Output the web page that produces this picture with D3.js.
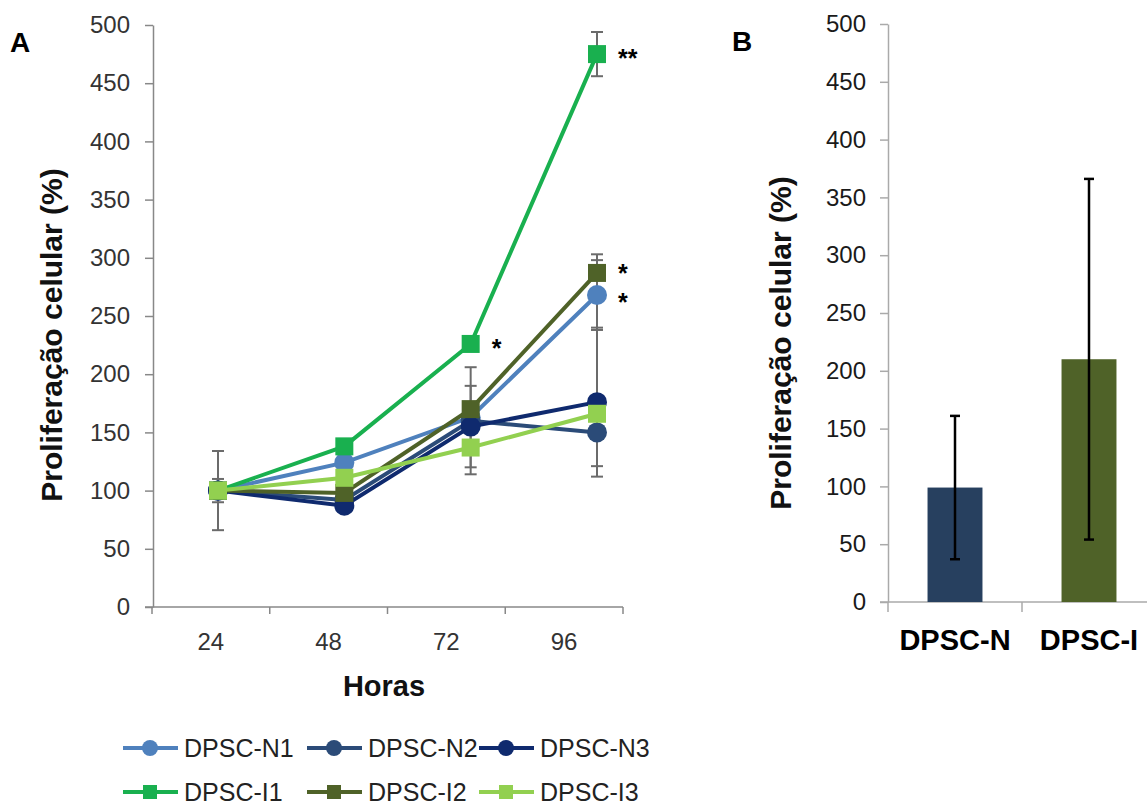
<!DOCTYPE html>
<html>
<head>
<meta charset="utf-8">
<script src="https://cdn.jsdelivr.net/npm/d3@7"></script>
<style>
  body { margin: 0; background: #fff; }
  svg { display: block; font-family: "Liberation Sans", Arial, sans-serif; }
</style>
</head>
<body>
<div id="container"></div>
<script>
// ---- data ----
const hours = ["24", "48", "72", "96"];
const yTicks = [0, 50, 100, 150, 200, 250, 300, 350, 400, 450, 500];

const lineNames = ["DPSC-N1", "DPSC-N2", "DPSC-N3", "DPSC-I1", "DPSC-I2", "DPSC-I3"];
const n1Vals = [100, 124, 163, 268];
const n2Vals = [100, 92, 160, 150];
const n3Vals = [100, 87, 155, 176];
const i1Vals = [100, 138, 226, 475];
const i2Vals = [100, 98, 170, 287];
const i3Vals = [100, 111, 137, 166];
// error bars (0 = not shown)
const n1Err = [0, 0, 0, 30];
const n2Err = [10, 0, 46, 29];
const n3Err = [0, 0, 35, 64];
const i1Err = [0, 0, 0, 19];
const i2Err = [0, 0, 0, 16];
const i3Err = [34, 0, 0, 0];

// significance marks: series, hour, label
const sigSeries = ["DPSC-I1", "DPSC-I1", "DPSC-I2", "DPSC-N1"];
const sigHours = ["72", "96", "96", "96"];
const sigLabels = ["*", "**", "*", "*"];

const barGroups = ["DPSC-N", "DPSC-I"];
const barMeans = [99, 210];
const barErrs = [62, 156];

// ---- styles ----
const lineColors = ["#4f81bd", "#2b4b78", "#0f2a6e", "#19b04f", "#4f6228", "#92d050"];
const lineShapes = ["circle", "circle", "circle", "square", "square", "square"];
const barColors = ["#27405f", "#4f6228"];

const W = 1147, H = 807;
const svg = d3.select("#container").append("svg")
  .attr("width", W).attr("height", H);

// ================= Panel A =================
const yA = d3.scaleLinear().domain([0, 500]).range([607, 25]);
const xBandA = d3.scaleBand().domain(hours).range([152, 623]);
const xA = d3.scalePoint().domain(hours).range([218, 597]);

svg.append("g")
  .attr("transform", "translate(153,0)")
  .call(d3.axisLeft(yA).tickValues(yTicks).tickSize(8).tickSizeOuter(0).tickPadding(15))
  .call(g => g.select(".domain").attr("stroke", "#888").attr("stroke-width", 1.5))
  .call(g => g.selectAll(".tick line").attr("stroke", "#888").attr("stroke-width", 1.5))
  .call(g => g.selectAll(".tick text")
    .attr("fill", "#333").style("font-size", "24px")
    .style("font-family", "'Liberation Sans', Arial, sans-serif"));

// x axis (category boundaries)
svg.append("line")
  .attr("x1", 145).attr("x2", xBandA.range()[1])
  .attr("y1", yA(0)).attr("y2", yA(0))
  .attr("stroke", "#888").attr("stroke-width", 1.5);
svg.append("g").selectAll("line")
  .data(hours.map(h => xBandA(h)).concat([xBandA.range()[1]]))
  .join("line")
  .attr("x1", d => d).attr("x2", d => d)
  .attr("y1", yA(0)).attr("y2", yA(0) + 7)
  .attr("stroke", "#888").attr("stroke-width", 1.5);
svg.append("g").selectAll("text")
  .data(hours)
  .join("text")
  .attr("x", d => xBandA(d) + xBandA.bandwidth() / 2)
  .attr("y", 650)
  .attr("text-anchor", "middle")
  .attr("fill", "#333")
  .style("font-size", "24px")
  .text(d => d);

svg.append("text")
  .attr("x", 384).attr("y", 696)
  .attr("text-anchor", "middle")
  .style("font-size", "29px").style("font-weight", "bold")
  .attr("fill", "#111")
  .text("Horas");

svg.append("text")
  .attr("transform", "translate(62,335) rotate(-90)")
  .attr("text-anchor", "middle")
  .style("font-size", "30px").style("font-weight", "bold")
  .attr("fill", "#111")
  .text("Proliferação celular (%)");

svg.append("text")
  .attr("x", 10).attr("y", 52)
  .style("font-size", "28px").style("font-weight", "bold")
  .text("A");

const valsList = [n1Vals, n2Vals, n3Vals, i1Vals, i2Vals, i3Vals];
const errList = [n1Err, n2Err, n3Err, i1Err, i2Err, i3Err];
const series = lineNames.map((name, i) => ({
  name, values: valsList[i], errs: errList[i],
  color: lineColors[i], shape: lineShapes[i]
}));

// error bars
const errData = [];
series.forEach(s => s.values.forEach((v, i) => {
  if (s.errs[i] > 0) errData.push({ h: hours[i], v, e: s.errs[i] });
}));
const errG = svg.append("g").attr("stroke", "#6b6b6b").attr("stroke-width", 2);
errG.selectAll("line.v").data(errData).join("line").attr("class", "v")
  .attr("x1", d => xA(d.h)).attr("x2", d => xA(d.h))
  .attr("y1", d => yA(d.v + d.e)).attr("y2", d => yA(d.v - d.e));
errG.selectAll("line.top").data(errData).join("line").attr("class", "top")
  .attr("x1", d => xA(d.h) - 6).attr("x2", d => xA(d.h) + 6)
  .attr("y1", d => yA(d.v + d.e)).attr("y2", d => yA(d.v + d.e));
errG.selectAll("line.bot").data(errData).join("line").attr("class", "bot")
  .attr("x1", d => xA(d.h) - 6).attr("x2", d => xA(d.h) + 6)
  .attr("y1", d => yA(d.v - d.e)).attr("y2", d => yA(d.v - d.e));

const lineGen = d3.line()
  .x((d, i) => xA(hours[i]))
  .y(d => yA(d));

function drawMarker(sel, shape, color, size) {
  if (shape === "circle") {
    sel.append("circle").attr("r", size / 2).attr("fill", color);
  } else {
    sel.append("rect")
      .attr("x", -size / 2).attr("y", -size / 2)
      .attr("width", size).attr("height", size)
      .attr("fill", color);
  }
}

series.forEach(s => {
  const g = svg.append("g");
  g.append("path")
    .attr("d", lineGen(s.values))
    .attr("fill", "none")
    .attr("stroke", s.color)
    .attr("stroke-width", 4);
  g.selectAll("g").data(s.values).join("g")
    .attr("transform", (d, i) => `translate(${xA(hours[i])},${yA(d)})`)
    .each(function () {
      drawMarker(d3.select(this), s.shape, s.color, s.shape === "circle" ? 20 : 18);
    });
});

// significance asterisks (spread apart when two sit at the same hour)
const sigData = sigLabels.map((t, i) => {
  const v = series.find(s => s.name === sigSeries[i]).values[hours.indexOf(sigHours[i])];
  return { t, h: sigHours[i], y: yA(v) + 13 };
});
const minGap = 29;
hours.forEach(h => {
  const grp = sigData.filter(d => d.h === h).sort((a, b) => a.y - b.y);
  for (let k = 1; k < grp.length; k++) {
    const gap = grp[k].y - grp[k - 1].y;
    if (gap < minGap) {
      const shift = (minGap - gap) / 2;
      grp[k - 1].y -= shift;
      grp[k].y += shift;
    }
  }
});
svg.append("g").selectAll("text")
  .data(sigData)
  .join("text")
  .attr("x", d => xA(d.h) + 21)
  .attr("y", d => d.y)
  .style("font-size", "25px").style("font-weight", "bold")
  .text(d => d.t);

// legend
const legX = [184, 368, 540];
const legY = [748, 792];
const leg = svg.append("g").selectAll("g")
  .data(series)
  .join("g")
  .attr("transform", (d, i) => `translate(${legX[i % 3]},${legY[Math.floor(i / 3)]})`);
leg.append("line")
  .attr("x1", -61).attr("x2", -6)
  .attr("stroke", d => d.color).attr("stroke-width", 4);
leg.append("g")
  .attr("transform", "translate(-34,0)")
  .each(function (d) {
    drawMarker(d3.select(this), d.shape, d.color, d.shape === "circle" ? 16 : 14);
  });
leg.append("text")
  .attr("x", 0).attr("y", 9)
  .attr("fill", "#222")
  .style("font-size", "25px")
  .text(d => d.name);

// ================= Panel B =================
const yB = d3.scaleLinear().domain([0, 500]).range([602, 24]);
const xB = d3.scaleBand().domain(barGroups).range([888, 1156]);

svg.append("g")
  .attr("transform", "translate(888,0)")
  .call(d3.axisLeft(yB).tickValues(yTicks).tickSize(8).tickSizeOuter(0).tickPadding(14))
  .call(g => g.select(".domain").attr("stroke", "#aaa").attr("stroke-width", 1.5))
  .call(g => g.selectAll(".tick line").attr("stroke", "#aaa").attr("stroke-width", 1.5))
  .call(g => g.selectAll(".tick text")
    .attr("fill", "#1a1a1a").style("font-size", "24px")
    .style("font-family", "'Liberation Sans', Arial, sans-serif"));

svg.append("line")
  .attr("x1", 880).attr("x2", W)
  .attr("y1", yB(0)).attr("y2", yB(0))
  .attr("stroke", "#aaa").attr("stroke-width", 1.5);
svg.append("g").selectAll("line")
  .data(barGroups.map(d => xB(d)))
  .join("line")
  .attr("x1", d => d).attr("x2", d => d)
  .attr("y1", yB(0)).attr("y2", yB(0) + 10)
  .attr("stroke", "#aaa").attr("stroke-width", 1.5);

const barW = xB.bandwidth() * 0.41;
svg.append("g").selectAll("rect")
  .data(barGroups)
  .join("rect")
  .attr("x", d => xB(d) + (xB.bandwidth() - barW) / 2)
  .attr("y", (d, i) => yB(barMeans[i]))
  .attr("width", barW)
  .attr("height", (d, i) => yB(0) - yB(barMeans[i]))
  .attr("fill", (d, i) => barColors[i]);

const errB = svg.append("g").attr("stroke", "#000").attr("stroke-width", 2.5);
barGroups.forEach((d, i) => {
  const cx = xB(d) + xB.bandwidth() / 2;
  const top = yB(barMeans[i] + barErrs[i]);
  const bot = yB(barMeans[i] - barErrs[i]);
  errB.append("line").attr("x1", cx).attr("x2", cx).attr("y1", top).attr("y2", bot);
  errB.append("line").attr("x1", cx - 5).attr("x2", cx + 5).attr("y1", top).attr("y2", top);
  errB.append("line").attr("x1", cx - 5).attr("x2", cx + 5).attr("y1", bot).attr("y2", bot);
});

svg.append("g").selectAll("text")
  .data(barGroups)
  .join("text")
  .attr("x", d => xB(d) + xB.bandwidth() / 2)
  .attr("y", 650)
  .attr("text-anchor", "middle")
  .style("font-size", "29px").style("font-weight", "bold")
  .attr("fill", "#000")
  .text(d => d);

svg.append("text")
  .attr("transform", "translate(791,343) rotate(-90)")
  .attr("text-anchor", "middle")
  .style("font-size", "30px").style("font-weight", "bold")
  .attr("fill", "#111")
  .text("Proliferação celular (%)");

svg.append("text")
  .attr("x", 732).attr("y", 51)
  .style("font-size", "28px").style("font-weight", "bold")
  .text("B");
</script>
</body>
</html>
